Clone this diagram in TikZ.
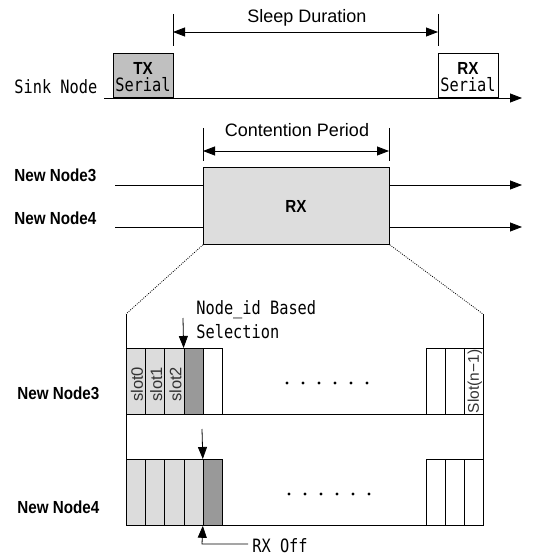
\documentclass[tikz,border=0pt]{standalone}
\usepackage{fontspec}
\setmainfont{Liberation Sans}
\newfontfamily\monof{DejaVu Sans Mono}
\usetikzlibrary{arrows.meta}
\definecolor{txgray}{HTML}{C0C0C0}
\definecolor{lightslot}{HTML}{DCDCDC}
\definecolor{darkslot}{HTML}{999999}
\definecolor{rxfill}{HTML}{DDDDDD}
\definecolor{slottext}{HTML}{333333}
\newcommand\mt[1]{\scalebox{1}[1.2]{\monof\fontsize{15.3}{18}\selectfont #1}}
\newcommand\bt[1]{\scalebox{1}[1.15]{\fontsize{15.2}{18}\selectfont\bfseries #1}}
\newcommand\st[1]{{\fontsize{18}{22}\selectfont #1}}
\begin{document}
\begin{tikzpicture}[x=1pt,y=-1pt,line width=0.8pt,
  tipend/.style={-{Triangle[length=12pt,width=9pt]}},
  both/.style={{Triangle[length=12pt,width=9pt]}-{Triangle[length=12pt,width=9pt]}},
  box/.style={draw, inner sep=0pt, anchor=north west},
  lbl/.style={anchor=west, inner sep=0pt},
  txt/.style={inner sep=0pt},
  slotlbl/.style={rotate=90, inner sep=0pt, text=slottext, font=\fontsize{16.5}{18}\selectfont},
  dotline/.style={dash pattern=on 0.9pt off 1.3pt, line width=0.8pt}]
\useasboundingbox (0,0) rectangle (532,556);

% ---------- Sink node ----------
\node[lbl] (sink) at (14,87) {\mt{Sink Node}};
\node[box, fill=txgray, minimum width=60pt, minimum height=44pt] (tx) at (113,53) {};
\node[txt] (txa) at (143,68) {\bt{TX}};
\node[txt] (txb) at (143,85) {\mt{Serial}};
\node[box, fill=white, minimum width=60pt, minimum height=44pt] (rxs) at (438,53) {};
\node[txt] (rxa) at (468,68) {\bt{RX}};
\node[txt] (rxb) at (468,85) {\mt{Serial}};
\coordinate (sinkS) at (104,98);
\coordinate (sinkE) at (522,98);
\draw[tipend] (sinkS) -- (sinkE);

% Sleep duration
\coordinate (s1t) at (173,14); \coordinate (s1b) at (173,46);
\coordinate (s2t) at (438,14); \coordinate (s2b) at (438,46);
\draw (s1t) -- (s1b);
\draw (s2t) -- (s2b);
\coordinate (s1) at (173,32); \coordinate (s2) at (438,32);
\draw[both] (s1) -- (s2);
\node[txt] (sleep) at (307,18) {\st{Sleep Duration}};

% ---------- New nodes (top) ----------
\node[lbl] (nn3) at (14,175) {\bt{New Node3}};
\node[lbl] (nn4) at (14,218) {\bt{New Node4}};
\node[box, fill=rxfill, minimum width=186pt, minimum height=77pt] (rx) at (203,167) {};
\node[txt] (rxlbl) at (296,206) {\bt{RX}};
\coordinate (n3s) at (115,185); \coordinate (n3e) at (522,185);
\coordinate (n4s) at (115,227); \coordinate (n4e) at (522,227);
\draw (n3s) -- (rx.west |- n3s);
\draw[tipend] (rx.east |- n3s) -- (n3e);
\draw (n4s) -- (rx.west |- n4s);
\draw[tipend] (rx.east |- n4s) -- (n4e);

% Contention period
\coordinate (c1t) at (203,128); \coordinate (c1b) at (203,161);
\coordinate (c2t) at (389,128); \coordinate (c2b) at (389,161);
\draw (c1t) -- (c1b);
\draw (c2t) -- (c2b);
\coordinate (c1) at (203,151); \coordinate (c2) at (389,151);
\draw[both] (c1) -- (c2);
\node[txt] (cont) at (297,130) {\st{Contention Period}};

% ---------- Detail ----------
\coordinate (dL) at (126,314);
\coordinate (dR) at (483,314);
\draw[dotline] (rx.south west) -- (dL);
\draw[dotline] (rx.south east) -- (dR);
\coordinate (dLb) at (126,525);
\coordinate (dRb) at (483,525);
\draw (dL) -- (dLb);
\draw (dR) -- (dRb);
\coordinate (m3L) at (126,414); \coordinate (m3R) at (483,414);
\draw (m3L) -- (m3R);
\draw (dLb) -- (dRb);

\node[lbl] (d3) at (17,393) {\bt{New Node3}};
\node[lbl] (d4) at (17,507) {\bt{New Node4}};

% row of New Node3
\foreach \i/\c in {0/lightslot,1/lightslot,2/lightslot,3/darkslot,4/white}{
  \node[box, fill=\c, minimum width=19.2pt, minimum height=66pt] (a\i) at ({126+19.2*\i},348) {};
}
\foreach \i in {0,1,2}{
  \node[slotlbl] at ([xshift=1pt,yshift=-3pt]a\i.center) {slot\i};
}
\foreach \i in {0,1,2}{
  \node[box, fill=white, minimum width=19pt, minimum height=66pt] (ar\i) at ({426+19*\i},348) {};
}
\node[slotlbl, font=\fontsize{15.5}{18}\selectfont] at ([xshift=1pt]ar2.center) {Slot(n\textminus1)};
\foreach \i in {0,...,5}{
  \fill (287+16*\i,383) circle (1.6pt);
}

% row of New Node4
\foreach \i/\c in {0/lightslot,1/lightslot,2/lightslot,3/lightslot,4/darkslot}{
  \node[box, fill=\c, minimum width=19.2pt, minimum height=66pt] (b\i) at ({126+19.2*\i},459) {};
}
\foreach \i in {0,1,2}{
  \node[box, fill=white, minimum width=19pt, minimum height=66pt] (br\i) at ({426+19*\i},459) {};
}
\foreach \i in {0,...,5}{
  \fill (289+16*\i,494) circle (1.6pt);
}

% Node_id based selection
\coordinate (selT) at (183,318);
\draw[tipend] (selT) -- (a3.north west);
\node[anchor=west, inner sep=0pt] (sel1) at (196,310) {\mt{Node\_id Based}};
\node[anchor=west, inner sep=0pt] (sel2) at (196,332) {\mt{Selection}};

\coordinate (sel4T) at (202,429);
\draw[tipend] (sel4T) -- (b4.north west);

% RX Off
\coordinate (offC) at (202,544);
\coordinate (offE) at (248,544);
\draw[tipend] (offE) -- (offC) -- (b4.south west);
\node[anchor=west, inner sep=0pt] (off) at (252,546) {\mt{RX Off}};
\end{tikzpicture}
\end{document}
